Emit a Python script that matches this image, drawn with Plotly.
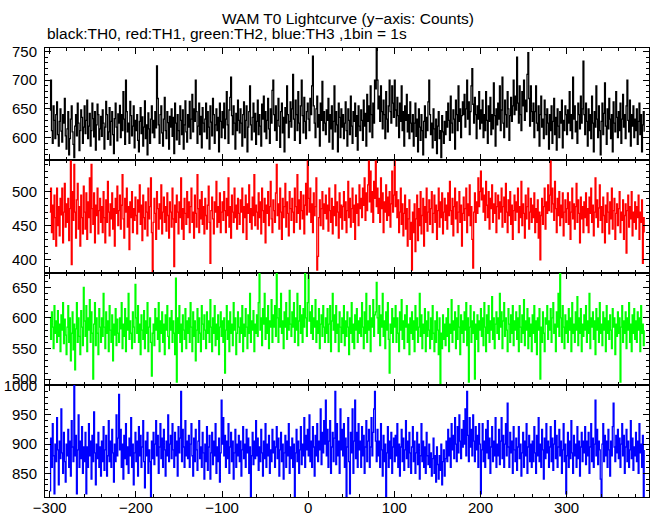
import numpy as np
import plotly.graph_objects as go
from plotly.subplots import make_subplots

# ---- data (counts per 1 s bin, time relative to T0) ----
t_start = -300
th0_counts = [
    648, 700, 612, 590, 655, 630, 598, 640, 662, 605, 585, 628, 650, 611, 592, 640, 625, 668, 603, 580,
    615, 645, 570, 598, 632, 655, 610, 588, 565, 620, 640, 603, 660, 625, 577, 612, 648, 635, 590, 618,
    655, 607, 630, 665, 598, 620, 642, 585, 612, 660, 633, 601, 645, 578, 622, 658, 640, 596, 615, 637,
    602, 648, 625, 580, 618, 663, 640, 597, 610, 652, 587, 628, 645, 605, 572, 633, 660, 618, 594, 641,
    625, 656, 600, 640, 612, 680, 632, 588, 700, 645, 610, 625, 590, 663, 638, 603, 620, 655, 582, 630,
    612, 640, 595, 575, 628, 652, 607, 636, 585, 618, 664, 598, 622, 570, 643, 615, 590, 632, 655, 608,
    630, 600, 645, 617, 725, 668, 622, 590, 640, 655, 608, 585, 632, 670, 612, 598, 645, 626, 580, 637,
    618, 650, 602, 635, 572, 660, 625, 596, 640, 612, 588, 655, 630, 605, 648, 580, 622, 664, 610, 592,
    640, 618, 663, 598, 632, 675, 610, 650, 628, 700, 645, 590, 620, 660, 605, 637, 582, 652, 625, 610,
    632, 660, 598, 645, 618, 580, 655, 627, 603, 668, 640, 590, 622, 650, 612, 635, 575, 660, 628, 600,
    645, 617, 660, 598, 632, 680, 622, 590, 648, 670, 705, 638, 605, 655, 625, 580, 642, 612, 665, 630,
    608, 650, 625, 585, 640, 662, 600, 630, 655, 575, 618, 645, 690, 622, 596, 635, 660, 610, 642, 588,
    628, 665, 605, 640, 620, 585, 658, 632, 672, 610, 645, 598, 630, 668, 615, 590, 650, 625, 682, 700,
    640, 612, 655, 595, 630, 668, 620, 583, 645, 660, 608, 635, 575, 652, 625, 690, 640, 600, 628, 662,
    618, 650, 710, 632, 595, 665, 640, 612, 680, 625, 590, 655, 700, 638, 608, 670, 628, 598, 645, 660,
    632, 612, 668, 640, 690, 742, 655, 625, 600, 650, 672, 618, 640, 585, 660, 630, 698, 612, 645, 625,
    605, 648, 630, 668, 592, 640, 615, 655, 580, 628, 690, 610, 645, 622, 575, 660, 635, 600, 650, 618,
    640, 598, 625, 662, 612, 585, 650, 630, 605, 672, 620, 590, 645, 628, 660, 602, 638, 578, 655, 620,
    612, 648, 630, 595, 665, 620, 642, 585, 675, 628, 655, 610, 690, 640, 600, 660, 625, 700, 685, 755,
    700, 650, 672, 628, 690, 645, 615, 665, 640, 598, 680, 632, 610, 655, 700, 645, 625, 690, 660, 635,
    700, 648, 620, 670, 638, 600, 660, 628, 690, 612, 645, 585, 655, 630, 675, 610, 640, 598, 662, 625,
    610, 640, 585, 625, 660, 602, 632, 575, 650, 618, 595, 640, 612, 570, 628, 655, 600, 635, 612, 662,
    700, 640, 605, 625, 582, 650, 615, 595, 632, 572, 620, 645, 598, 612, 565, 638, 610, 590, 628, 605,
    645, 618, 660, 630, 595, 672, 625, 608, 648, 632, 580, 665, 640, 612, 690, 628, 650, 600, 638, 662,
    640, 675, 618, 650, 700, 632, 662, 605, 645, 690, 720, 658, 625, 670, 640, 598, 655, 632, 680, 615,
    648, 625, 665, 600, 640, 612, 680, 630, 590, 655, 628, 670, 605, 640, 615, 695, 638, 585, 650, 622,
    660, 632, 690, 612, 648, 705, 625, 600, 665, 640, 618, 680, 650, 595, 638, 670, 628, 655, 700, 640,
    672, 648, 740, 660, 625, 690, 640, 612, 680, 655, 700, 630, 665, 645, 710, 748, 668, 620, 690, 645,
    628, 660, 600, 645, 690, 625, 612, 655, 585, 640, 672, 618, 632, 598, 665, 640, 605, 650, 625, 580,
    640, 612, 655, 590, 628, 668, 605, 635, 578, 650, 620, 600, 645, 625, 665, 582, 630, 612, 655, 640,
    605, 648, 625, 680, 612, 640, 598, 705, 632, 655, 610, 628, 590, 660, 640, 615, 672, 625, 650, 733,
    640, 605, 660, 628, 585, 650, 612, 640, 598, 672, 625, 575, 645, 618, 690, 632, 600, 655, 612, 570,
    628, 660, 605, 642, 695, 620, 588, 650, 615, 668, 632, 598, 640, 575, 662, 625, 610, 680, 635, 600,
    645, 612, 660, 590, 632, 675, 618, 640, 598, 655, 700, 630, 610, 665, 585, 640, 620, 655, 600, 632,
    612, 650, 588, 628, 660, 605, 640, 575, 622, 645, 610,
]
th1_counts = [
    470, 505, 440, 480, 430, 495, 462, 420, 505, 450, 478, 435, 490, 466, 505, 425, 470, 512, 448, 482,
    455, 490, 428, 475, 545, 393, 500, 458, 540, 470, 432, 488, 512, 445, 478, 420, 495, 462, 438, 508,
    470, 445, 498, 430, 485, 462, 520, 440, 540, 475, 452, 498, 425, 480, 465, 505, 438, 472, 490, 455,
    478, 440, 500, 462, 425, 488, 455, 515, 470, 435, 482, 460, 498, 445, 475, 420, 490, 468, 508, 450,
    472, 495, 445, 480, 525, 460, 432, 490, 470, 505, 448, 478, 415, 485, 462, 500, 440, 475, 458, 492,
    465, 438, 488, 470, 510, 452, 480, 428, 495, 462, 445, 485, 470, 435, 505, 460, 478, 520, 440, 383,
    455, 490, 468, 430, 500, 475, 445, 482, 460, 510, 438, 470, 492, 455, 478, 442, 498, 465, 432, 485,
    470, 448, 505, 460, 390, 480, 455, 495, 470, 438, 485, 462, 520, 445, 475, 430, 490, 468, 452, 500,
    462, 485, 440, 478, 505, 455, 470, 432, 495, 468, 448, 525, 475, 440, 488, 460, 500, 452, 478, 438,
    490, 465, 445, 480, 508, 455, 395, 472, 492, 460, 438, 485, 470, 515, 448, 478, 455, 498, 440, 470,
    485, 458, 500, 472, 440, 490, 465, 520, 448, 478, 432, 495, 470, 455, 505, 462, 480, 445, 490, 468,
    452, 488, 470, 505, 440, 478, 462, 495, 430, 482, 468, 510, 455, 475, 445, 492, 465, 525, 450, 480,
    470, 445, 498, 462, 485, 438, 505, 472, 455, 490, 425, 480, 468, 500, 450, 478, 515, 460, 440, 488,
    472, 455, 498, 540, 465, 482, 445, 505, 470, 430, 490, 462, 478, 512, 448, 485, 468, 435, 500, 475,
    458, 490, 470, 440, 505, 478, 455, 525, 468, 488, 445, 500, 472, 460, 495, 438, 480, 512, 466, 545,
    490, 470, 505, 455, 482, 440, 498, 465, 478, 520, 385, 405, 462, 488, 450, 475, 500, 445, 482, 468,
    495, 460, 480, 442, 505, 472, 455, 490, 438, 478, 465, 510, 450, 485, 470, 432, 498, 462, 480, 445,
    478, 500, 458, 485, 440, 472, 515, 462, 490, 448, 475, 505, 455, 480, 430, 495, 468, 482, 450, 510,
    475, 490, 462, 505, 480, 520, 458, 498, 472, 510, 545, 485, 530, 470, 500, 455, 515, 490, 545, 478,
    505, 468, 490, 455, 520, 475, 498, 440, 485, 470, 510, 458, 492, 465, 500, 448, 482, 530, 470, 495,
    545, 478, 500, 462, 488, 440, 470, 505, 452, 482, 435, 468, 495, 445, 475, 420, 460, 488, 430, 455,
    385, 470, 440, 482, 412, 460, 495, 428, 475, 450, 500, 438, 465, 490, 420, 478, 455, 505, 442, 470,
    488, 452, 475, 500, 440, 468, 495, 455, 480, 430, 472, 505, 448, 485, 462, 498, 438, 470, 490, 458,
    480, 445, 498, 465, 515, 472, 452, 490, 435, 478, 505, 460, 485, 440, 470, 500, 455, 480, 420, 468,
    492, 458, 475, 505, 440, 482, 465, 510, 450, 478, 430, 388, 470, 498, 455, 485, 468, 520, 478, 500,
    530, 488, 505, 470, 495, 458, 515, 480, 462, 500, 445, 490, 475, 510, 455, 482, 468, 498, 440, 478,
    495, 460, 485, 470, 505, 448, 478, 492, 455, 512, 470, 440, 488, 465, 500, 452, 480, 430, 472, 495,
    458, 485, 470, 505, 440, 478, 462, 515, 450, 482, 468, 432, 495, 460, 478, 505, 445, 470, 490, 455,
    480, 462, 498, 440, 475, 455, 488, 432, 470, 400, 465, 490, 452, 478, 505, 445, 485, 468, 510, 472,
    495, 545, 470, 505, 482, 458, 515, 475, 440, 490, 465, 500, 450, 480, 462, 498, 435, 470, 488, 455,
    475, 498, 452, 485, 430, 470, 505, 460, 482, 445, 478, 512, 455, 488, 468, 425, 492, 460, 478, 440,
    485, 462, 498, 450, 475, 440, 492, 468, 505, 455, 480, 435, 470, 520, 462, 488, 448, 476, 510, 458,
    478, 440, 492, 465, 425, 480, 455, 498, 470, 438, 485, 460, 505, 445, 472, 490, 430, 468, 482, 450,
    475, 500, 440, 470, 458, 488, 430, 465, 482, 410, 472, 495, 448, 478, 460, 500, 435, 470, 455, 485,
    445, 478, 462, 495, 430, 470, 455, 488, 395, 462, 440,
]
th2_counts = [
    600, 565, 610, 585, 550, 620, 575, 595, 560, 612, 570, 590, 545, 605, 580, 625, 558, 598, 572, 540,
    585, 620, 560, 600, 530, 575, 610, 548, 590, 515, 582, 625, 560, 600, 570, 540, 612, 585, 555, 650,
    595, 570, 620, 545, 600, 580, 630, 560, 610, 575, 500, 590, 625, 555, 600, 575, 540, 615, 585, 560,
    600, 570, 640, 585, 550, 610, 575, 595, 545, 620, 580, 560, 605, 530, 590, 572, 615, 555, 598, 575,
    560, 600, 582, 625, 550, 590, 570, 615, 545, 600, 580, 640, 565, 595, 575, 550, 610, 585, 560, 655,
    600, 575, 620, 560, 590, 540, 605, 580, 565, 612, 550, 595, 575, 625, 545, 585, 600, 560, 505, 575,
    590, 555, 615, 580, 600, 565, 625, 545, 595, 575, 610, 560, 590, 540, 605, 580, 620, 570, 550, 600,
    580, 612, 560, 595, 575, 540, 665, 495, 600, 575, 620, 560, 590, 545, 605, 580, 565, 615, 550, 595,
    575, 600, 560, 625, 585, 545, 610, 570, 595, 530, 580, 615, 560, 600, 575, 545, 620, 590, 565, 605,
    580, 550, 610, 575, 595, 560, 630, 585, 545, 600, 575, 620, 555, 590, 565, 605, 540, 585, 610, 570,
    595, 560, 600, 510, 580, 620, 565, 595, 545, 610, 575, 590, 555, 625, 580, 600, 540, 575, 610, 585,
    560, 600, 575, 620, 545, 590, 570, 615, 585, 550, 605, 575, 640, 560, 595, 580, 612, 545, 590, 575,
    605, 570, 625, 678, 580, 600, 555, 615, 590, 640, 565, 600, 575, 620, 550, 595, 585, 630, 560, 605,
    585, 620, 570, 673, 600, 560, 615, 585, 640, 575, 595, 550, 610, 585, 625, 565, 600, 580, 645, 590,
    570, 610, 585, 625, 560, 600, 580, 640, 555, 595, 620, 575, 605, 560, 615, 585, 678, 600, 570, 625,
    670, 595, 610, 575, 620, 565, 600, 585, 630, 560, 595, 575, 615, 550, 590, 605, 570, 620, 585, 560,
    600, 575, 615, 560, 590, 620, 545, 595, 640, 580, 605, 560, 620, 575, 590, 545, 610, 585, 560, 600,
    575, 620, 555, 595, 570, 610, 585, 540, 600, 575, 625, 560, 590, 550, 605, 580, 615, 560, 595, 575,
    600, 570, 625, 585, 550, 610, 575, 640, 560, 595, 580, 620, 545, 600, 585, 630, 570, 605, 610, 658,
    600, 575, 620, 555, 605, 585, 640, 570, 595, 550, 610, 580, 625, 565, 510, 590, 575, 615, 560, 600,
    585, 620, 560, 600, 575, 545, 610, 580, 630, 565, 595, 550, 605, 585, 620, 560, 590, 540, 600, 575,
    610, 565, 595, 545, 620, 580, 600, 560, 585, 640, 570, 605, 550, 590, 575, 615, 545, 595, 570, 610,
    580, 550, 600, 565, 620, 575, 545, 595, 560, 610, 580, 540, 600, 490, 575, 550, 605, 565, 590, 555,
    600, 570, 615, 545, 590, 575, 630, 560, 595, 580, 610, 550, 600, 565, 620, 585, 540, 605, 575, 595,
    560, 610, 580, 625, 555, 600, 495, 585, 620, 560, 595, 575, 610, 500, 590, 565, 605, 545, 595, 580,
    615, 570, 600, 555, 625, 585, 545, 605, 575, 620, 560, 595, 580, 635, 565, 600, 550, 590, 610, 575,
    600, 565, 640, 585, 610, 550, 595, 625, 570, 600, 580, 545, 615, 590, 560, 605, 575, 620, 555, 595,
    580, 610, 565, 600, 545, 620, 585, 560, 605, 575, 630, 555, 595, 580, 615, 550, 600, 570, 590, 545,
    605, 575, 620, 560, 595, 540, 600, 580, 615, 500, 585, 560, 610, 575, 545, 600, 590, 620, 565, 595,
    580, 615, 560, 600, 625, 575, 590, 545, 610, 585, 640, 570, 675, 600, 560, 620, 585, 550, 605, 575,
    595, 560, 615, 580, 600, 545, 625, 575, 590, 560, 610, 580, 635, 555, 600, 575, 615, 545, 590, 570,
    605, 580, 620, 560, 595, 575, 640, 550, 600, 585, 610, 565, 595, 540, 615, 580, 600, 560, 625, 575,
    590, 555, 610, 580, 600, 545, 620, 575, 595, 565, 605, 580, 550, 615, 585, 600, 540, 590, 570, 610,
    575, 600, 495, 585, 620, 560, 595, 575, 610, 550, 600, 580, 625, 560, 590, 545, 605, 575, 615, 565,
    595, 560, 610, 580, 600, 545, 620, 575, 590, 555, 580,
]
th3_counts = [
    820, 910, 860, 935, 880, 815, 900, 870, 945, 890, 830, 905, 875, 960, 885, 850, 920, 870, 835, 900,
    880, 925, 860, 905, 845, 940, 895, 870, 1000, 880, 915, 815, 890, 950, 860, 905, 875, 930, 850, 895,
    870, 920, 815, 895, 860, 935, 880, 905, 840, 915, 870, 955, 885, 830, 900, 875, 920, 860, 895, 845,
    905, 870, 930, 855, 890, 915, 845, 880, 940, 870, 905, 860, 925, 885, 835, 900, 870, 950, 880, 910,
    985, 890, 925, 860, 900, 840, 915, 875, 935, 865, 895, 850, 910, 880, 945, 860, 900, 830, 885, 920,
    870, 905, 845, 930, 880, 915, 860, 895, 940, 870, 825, 905, 880, 920, 850, 890, 870, 810, 905, 875,
    920, 865, 900, 940, 880, 915, 850, 895, 935, 875, 910, 860, 925, 890, 845, 905, 880, 950, 870, 900,
    915, 875, 935, 890, 860, 920, 880, 905, 845, 930, 885, 910, 990, 870, 925, 895, 860, 940, 880, 905,
    875, 915, 860, 900, 935, 880, 845, 910, 870, 925, 890, 855, 905, 940, 875, 895, 860, 920, 885, 840,
    900, 870, 930, 855, 895, 915, 840, 885, 920, 865, 905, 880, 935, 850, 895, 870, 910, 835, 885, 975,
    900, 945, 880, 915, 860, 905, 875, 935, 850, 895, 920, 870, 905, 840, 885, 925, 860, 900, 880, 915,
    870, 905, 845, 890, 930, 875, 900, 860, 925, 885, 910, 850, 895, 810, 880, 920, 865, 905, 875, 940,
    880, 910, 855, 895, 870, 925, 885, 845, 905, 875, 935, 860, 900, 880, 915, 850, 890, 870, 925, 885,
    905, 860, 895, 930, 875, 910, 845, 890, 920, 870, 900, 840, 885, 915, 860, 905, 880, 935, 850, 895,
    875, 910, 860, 900, 810, 885, 925, 870, 905, 850, 890, 930, 865, 900, 880, 945, 860, 915, 890, 925,
    880, 950, 870, 905, 860, 930, 895, 845, 915, 880, 935, 870, 905, 890, 960, 865, 920, 885, 940, 900,
    975, 880, 925, 860, 905, 940, 850, 895, 920, 870, 910, 990, 865, 935, 880, 905, 850, 960, 890, 925,
    880, 935, 860, 910, 810, 895, 945, 870, 815, 920, 885, 960, 850, 905, 975, 875, 920, 860, 935, 890,
    905, 860, 930, 880, 915, 850, 895, 940, 870, 905, 925, 860, 895, 945, 880, 920, 960, 990, 905, 870,
    925, 880, 905, 860, 935, 890, 845, 915, 870, 900, 810, 885, 930, 860, 905, 875, 920, 850, 895, 910,
    870, 915, 880, 935, 860, 900, 845, 895, 925, 870, 910, 855, 890, 940, 875, 905, 860, 920, 885, 850,
    895, 930, 870, 905, 850, 885, 920, 865, 900, 840, 880, 935, 870, 905, 860, 895, 850, 920, 880, 865,
    900, 860, 885, 845, 875, 910, 850, 880, 835, 895, 865, 840, 880, 855, 900, 830, 870, 890, 845, 875,
    905, 870, 925, 880, 910, 860, 935, 890, 915, 875, 945, 900, 870, 930, 885, 950, 905, 875, 925, 895,
    940, 900, 960, 880, 990, 915, 870, 945, 895, 925, 880, 950, 905, 870, 930, 890, 915, 860, 935, 900,
    815, 890, 935, 870, 905, 860, 925, 885, 940, 875, 910, 850, 895, 930, 870, 905, 880, 945, 860, 900,
    880, 925, 865, 905, 945, 875, 915, 860, 900, 935, 880, 970, 895, 860, 920, 885, 905, 850, 930, 890,
    870, 910, 855, 895, 930, 875, 900, 845, 885, 920, 860, 905, 880, 935, 850, 895, 915, 870, 900, 860,
    905, 870, 930, 885, 850, 915, 880, 945, 870, 900, 860, 925, 890, 840, 910, 875, 935, 885, 905, 860,
    895, 930, 870, 910, 855, 900, 940, 875, 915, 860, 895, 925, 880, 905, 850, 890, 935, 870, 900, 815,
    880, 920, 860, 905, 875, 940, 885, 850, 915, 880, 900, 860, 930, 875, 905, 845, 895, 920, 870, 905,
    885, 930, 865, 905, 880, 920, 850, 895, 935, 870, 910, 860, 900, 975, 880, 925, 865, 905, 890, 840,
    810, 900, 935, 870, 915, 880, 905, 860, 925, 890, 845, 905, 880, 930, 970, 895, 870, 915, 885, 925,
    875, 910, 860, 900, 935, 880, 915, 850, 895, 925, 870, 905, 860, 890, 940, 875, 910, 855, 895, 880,
    920, 870, 905, 850, 935, 885, 900, 860, 915, 810, 890,
]

series = [th0_counts, th1_counts, th2_counts, th3_counts]
colors = ["#000000", "#ff0000", "#00ff00", "#0000ff"]
y_ranges = [[560.4, 756], [381.4, 546], [490.8, 674.3], [809.4, 1001.5]]
x_range = [-305.5, 395.6]

FONT = "Liberation Sans, Arial, Helvetica, sans-serif"
TICKSIZE = 15

fig = make_subplots(rows=4, cols=1, shared_xaxes=True, vertical_spacing=0)

for i, (vals, col) in enumerate(zip(series, colors)):
    x = t_start + np.arange(len(vals))
    fig.add_trace(go.Scatter(x=x, y=vals, mode="lines", line=dict(color=col, width=1.3, shape="hv"),
                             showlegend=False, hoverinfo="skip"), row=i + 1, col=1)
    fig.update_yaxes(range=y_ranges[i], dtick=50, tick0=0, ticks="inside", ticklen=6, tickwidth=1,
                     tickcolor="black", showline=True, linecolor="black", linewidth=1,
                     mirror="allticks", showgrid=False, zeroline=False, automargin=False,
                     ticklabelstandoff=4,
                     minor=dict(dtick=10, ticks="inside", ticklen=3, tickcolor="black", showgrid=False),
                     tickfont=dict(family=FONT, size=TICKSIZE, color="black"),
                     row=i + 1, col=1)
    fig.update_xaxes(range=x_range, dtick=100, tick0=0, ticks="inside", ticklen=6, tickwidth=1,
                     tickcolor="black", showline=True, linecolor="black", linewidth=1,
                     mirror="allticks", showgrid=False, zeroline=False, automargin=False,
                     ticklabelstandoff=-3,
                     minor=dict(dtick=20, ticks="inside", ticklen=3, tickcolor="black", showgrid=False),
                     tickfont=dict(family=FONT, size=TICKSIZE, color="black"),
                     showticklabels=(i == 3),
                     row=i + 1, col=1)

fig.update_layout(
    width=652, height=515,
    margin=dict(l=45, r=3, t=48, b=18, autoexpand=False),
    paper_bgcolor="white", plot_bgcolor="white",
    font=dict(family=FONT, size=15, color="black"),
    annotations=[
        dict(text="WAM T0 Lightcurve (y\u2212axis: Counts)", xref="paper", yref="paper",
             x=0.502, y=1.0668, xanchor="center", yanchor="middle", showarrow=False,
             font=dict(family=FONT, size=15.5, color="black")),
        dict(text="black:TH0, red:TH1, green:TH2, blue:TH3 ,1bin = 1s", xref="paper", yref="paper",
             x=0.0, y=1.0327, xanchor="left", yanchor="middle", showarrow=False,
             font=dict(family=FONT, size=15.5, color="black")),
    ],
)

fig.write_html("out.html", config={"displayModeBar": False},
               post_script="document.body.style.margin='0';document.body.style.overflow='hidden';")
